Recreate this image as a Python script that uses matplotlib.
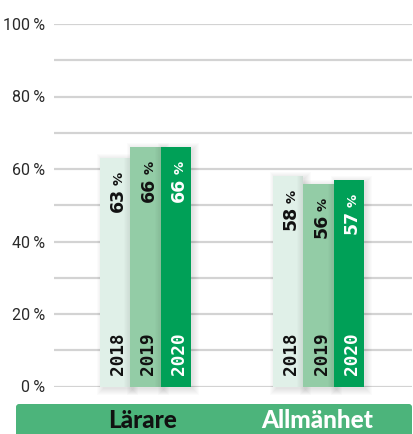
import numpy as np
import matplotlib
matplotlib.use("Agg")
import matplotlib.pyplot as plt
from matplotlib.patches import Rectangle, FancyBboxPatch
import matplotlib.transforms as mtransforms

# ---- data ----
groups = ["Lärare", "Allmänhet"]
years = ["2018", "2019", "2020"]
values = {
    "2018": [63, 58],
    "2019": [66, 56],
    "2020": [66, 57],
}
ytick_vals = [0, 20, 40, 60, 80, 100]

bar_colors = {"2018": "#e0f0e8", "2019": "#93cca6", "2020": "#00a057"}
text_colors = {"2018": "#111111", "2019": "#111111", "2020": "#ffffff"}
band_green = "#4cb47b"

W, H = 414, 434
fig = plt.figure(figsize=(W / 100, H / 100), dpi=100)

# main axes in pixel layout
x0_px, x1_px = 54, 412
y0_px, y1_px = 386.5, 24.0
ax = fig.add_axes([x0_px / W, 1 - y0_px / H, (x1_px - x0_px) / W, (y0_px - y1_px) / H])
px_per_unit = 173.0
c0 = 145.5
ax.set_xlim((x0_px - c0) / px_per_unit, (x1_px - c0) / px_per_unit)
ax.set_ylim(0, 100)
for s in ax.spines.values():
    s.set_visible(False)
ax.set_yticks(range(0, 101, 10))
ax.set_yticklabels([f"{v}\u2009%" if v in ytick_vals else "" for v in range(0, 101, 10)],
                   fontfamily="Roboto", fontsize=11.5, color="#2a2a2a")
PT = 0.72  # points per pixel at dpi 100
ax.tick_params(axis="y", length=0, pad=9 * PT)
ax.set_xticks([])
ax.grid(axis="y", color="#d3d3d3", lw=1.6)
ax.set_axisbelow(True)

dx = 1 / px_per_unit           # data units per px (x)
dy = 100 / (y0_px - y1_px)     # data units per px (y)
bw = 30.5 * dx

for gi, g in enumerate(groups):
    # soft shadow for the group (cast right / down)
    for yi, yr in enumerate(years):
        xc = gi + (yi - 1) * bw
        v = values[yr][gi]
        for k in range(1, 8):
            ax.add_patch(Rectangle((xc - bw / 2 - (k - 4) * dx, 0 - (k + 1) * dy),
                                   bw + (2 * k - 3) * dx, v + (2 * k - 2) * dy,
                                   facecolor="black", alpha=0.016, lw=0, zorder=2,
                                   clip_on=False))
    for yi, yr in enumerate(years):
        xc = gi + (yi - 1) * bw
        v = values[yr][gi]
        ax.bar(xc, v, width=bw, color=bar_colors[yr], zorder=3, lw=0)
        if yr != "2020":
            # inner shading at right edge
            for k in range(6):
                ax.add_patch(Rectangle((xc + bw / 2 - (k + 1) * dx, 0), dx, v,
                                       facecolor="black", alpha=0.08 * (6 - k) / 6,
                                       lw=0, zorder=3.5))
        tc = text_colors[yr]
        base_x = xc + 8 * dx
        # percent sign
        t = mtransforms.offset_copy(ax.transData, fig=fig, x=0, y=-14 * PT, units="points")
        ax.text(base_x, v, "%", transform=t, rotation=90, rotation_mode="anchor",
                ha="right", va="baseline", fontsize=9.5, fontweight="bold",
                fontfamily="DejaVu Sans", color=tc, zorder=5)
        t2 = mtransforms.offset_copy(ax.transData, fig=fig, x=0, y=-30 * PT, units="points")
        ax.text(base_x, v, f"{v}", transform=t2, rotation=90, rotation_mode="anchor",
                ha="right", va="baseline", fontsize=12.5, fontweight="bold",
                fontfamily="DejaVu Sans", color=tc, zorder=5)
        t3 = mtransforms.offset_copy(ax.transData, fig=fig, x=0, y=11.5 * PT, units="points")
        ax.text(base_x, 0, yr, transform=t3, rotation=90, rotation_mode="anchor",
                ha="left", va="baseline", fontsize=12.8, fontweight="bold",
                fontfamily="DejaVu Sans Mono", color=tc, zorder=5)

# ---- bottom band ----
ov = fig.add_axes([0, 0, 1, 1], zorder=5)
ov.axis("off")
ov.patch.set_alpha(0)

band = FancyBboxPatch((16, 404), 396, 40, boxstyle="round,pad=0,rounding_size=4",
                      facecolor=band_green, lw=0)
ov.add_patch(band)
light = np.array(matplotlib.colors.to_rgb("#c9e8d6"))
green = np.array(matplotlib.colors.to_rgb(band_green))
xs = np.arange(16, 412) + 0.5
frac = np.clip((xs - 54) / (205 - 54), 0, 1)
img = light[None, :] * (1 - frac[:, None]) + green[None, :] * frac[:, None]
img[xs < 54] = green
img = img[None, :, :]
im = ov.imshow(img, extent=(16, 412, 444, 404), aspect="auto", interpolation="bilinear")
im.set_clip_path(band)
ov.set_xlim(0, W)
ov.set_ylim(H, 0)

band_cx = [143, 317]
band_tc = ["#111111", "#ffffff"]
for g, cx, tc in zip(groups, band_cx, band_tc):
    ov.text(cx, 421, g, ha="center", va="center", fontsize=17.5, fontweight="black",
            fontfamily="Lato", color=tc)

fig.savefig("out.png", dpi=100)
